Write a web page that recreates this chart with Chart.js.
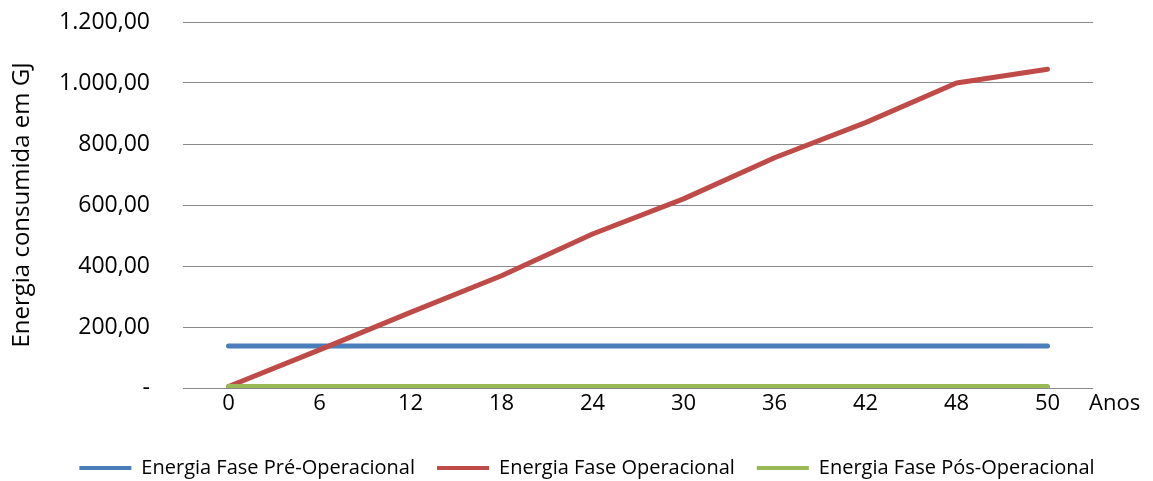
<!DOCTYPE html>
<html>
<head>
<meta charset="utf-8">
<script src="https://cdn.jsdelivr.net/npm/chart.js@4/dist/chart.umd.min.js"></script>
<style>
  html, body { margin: 0; padding: 0; background: #fff; }
  #wrap { width: 1153px; height: 481px; }
</style>
</head>
<body>
<div id="wrap"><canvas id="c" width="1153" height="481"></canvas></div>
<script>
const categories = ['0', '6', '12', '18', '24', '30', '36', '42', '48', '50'];
const preOperacional = [138, 138, 138, 138, 138, 138, 138, 138, 138, 138];
const operacional = [5, 125, 248, 368, 505, 620, 755, 870, 1000, 1045];
const posOperacional = [5, 5, 5, 5, 5, 5, 5, 5, 5, 5];
const seriesNames = ['Energia Fase Pré-Operacional', 'Energia Fase Operacional', 'Energia Fase Pós-Operacional'];
const yTitle = 'Energia consumida em GJ';
const xUnit = 'Anos';

const FONT = "'Open Sans', 'Liberation Sans', sans-serif";

function fmt(v) {
  if (v === 0) return '-';
  const s = Math.round(v).toString().replace(/\B(?=(\d{3})+(?!\d))/g, '.');
  return s + ',00';
}

const anosPlugin = {
  id: 'anos',
  afterLayout(chart) {
    const lg = chart.legend;
    if (lg) { lg.left += 38; lg.right += 38; }
  },
  afterDraw(chart) {
    const ctx = chart.ctx;
    const x = chart.scales.x;
    ctx.save();
    ctx.font = '22px ' + FONT;
    ctx.fillStyle = '#000';
    ctx.textAlign = 'left';
    ctx.textBaseline = 'middle';
    ctx.fillText(xUnit, chart.chartArea.right - 4, x.top + 16);
    ctx.restore();
  }
};

new Chart(document.getElementById('c'), {
  type: 'line',
  data: {
    labels: categories,
    datasets: [
      { label: seriesNames[0], data: preOperacional, borderColor: '#4A7EBB', backgroundColor: '#4A7EBB', order: 2 },
      { label: seriesNames[1], data: operacional, borderColor: '#BE4B48', backgroundColor: '#BE4B48', order: 1 },
      { label: seriesNames[2], data: posOperacional, borderColor: '#98B954', backgroundColor: '#98B954', order: 0 }
    ]
  },
  options: {
    responsive: false,
    animation: false,
    devicePixelRatio: 1,
    layout: { padding: { left: 5, right: 60, top: 22, bottom: -7 } },
    elements: {
      line: { borderWidth: 5, tension: 0, borderCapStyle: 'round', borderJoinStyle: 'round', fill: false },
      point: { radius: 0, hoverRadius: 0 }
    },
    plugins: {
      tooltip: { enabled: false },
      legend: {
        position: 'bottom',
        labels: {
          font: { family: FONT, size: 20 },
          color: '#000',
          boxWidth: 52,
          boxHeight: 4,
          padding: 22,
          sort: (a, b) => a.datasetIndex - b.datasetIndex,
          generateLabels(chart) {
            const items = Chart.defaults.plugins.legend.labels.generateLabels(chart);
            items.forEach(it => { it.lineWidth = 0; it.strokeStyle = 'transparent'; });
            return items;
          }
        }
      }
    },
    scales: {
      x: {
        type: 'category',
        offset: true,
        afterFit(scale) { scale.height = 48; },
        grid: { display: false, drawTicks: false },
        border: { display: false },
        ticks: { font: { family: FONT, size: 22 }, color: '#000', padding: 3, maxRotation: 0 }
      },
      y: {
        min: 0,
        max: 1200,
        afterFit(scale) { scale.width = 178; scale.paddingTop = 0; scale.paddingBottom = 0; },
        grid: {
          drawTicks: false,
          lineWidth: 1,
          color: ctx => (ctx.tick && ctx.tick.value % 200 === 0) ? '#8a8a8a' : '#c8c8c8'
        },
        border: { display: false },
        ticks: {
          stepSize: 100,
          padding: 33,
          font: { family: FONT, size: 23 },
          color: '#000',
          callback: v => (v % 200 === 0 ? fmt(v) : '')
        },
        title: {
          display: true,
          text: yTitle,
          font: { family: FONT, size: 24 },
          color: '#000',
          padding: { top: 3, bottom: 0 }
        }
      }
    }
  },
  plugins: [anosPlugin]
});
</script>
</body>
</html>
